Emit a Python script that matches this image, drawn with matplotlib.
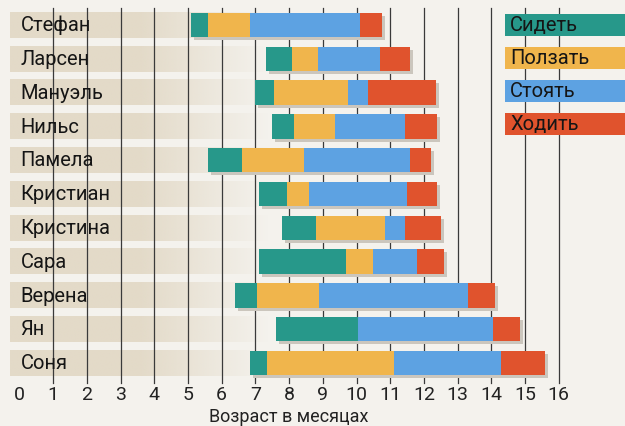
import numpy as np
import matplotlib.pyplot as plt
from matplotlib.patches import Rectangle

# milestones (age in months) for each child
names = ['Стефан', 'Ларсен', 'Мануэль', 'Нильс', 'Памела', 'Кристиан',
         'Кристина', 'Сара', 'Верена', 'Ян', 'Соня']
sit   = [5.1, 7.3, 7.0, 7.5, 5.6, 7.1, 7.8, 7.1, 6.4, 7.6, 6.85]
crawl = [5.6, 8.1, 7.55, 8.15, 6.6, 7.95, 8.8, 9.7, 7.05, 10.05, 7.35]
stand = [6.85, 8.85, 9.75, 9.35, 8.45, 8.6, 10.85, 10.5, 8.9, 10.05, 11.1]
walk  = [10.1, 10.7, 10.35, 11.45, 11.6, 11.5, 11.45, 11.8, 13.3, 14.05, 14.3]
end   = [10.75, 11.6, 12.35, 12.4, 12.2, 12.4, 12.5, 12.6, 14.1, 14.85, 15.6]

phases = ['Сидеть', 'Ползать', 'Стоять', 'Ходить']
colors = ['#27988a', '#f0b54c', '#5da2e2', '#e0532d']
xticks = list(range(17))

plt.rcParams['font.family'] = ['Roboto', 'DejaVu Sans']

bg = '#f4f2ed'
fig = plt.figure(figsize=(6.25, 4.26), dpi=100, facecolor=bg)
ax = fig.add_axes([0, 0, 1, 1])
ax.set_facecolor(bg)

px = 33.7   # pixels per month
py = 33.8   # pixels per row
ax.set_xlim(-19.5 / px, (625 - 19.5) / px)
ax.set_ylim((426 - 25) / py, -25 / py)
ax.axis('off')

# beige name bands fading to the right
fade = np.ones((1, 200, 4))
fade[..., :3] = np.array([227, 218, 200]) / 255
xs = np.linspace(0, 1, 200)
fade[0, :, 3] = np.clip((1 - xs) / 0.5, 0, 1)
for i, n in enumerate(names):
    ax.imshow(fade, extent=[-0.28, 7.4, i + 0.38, i - 0.38], aspect='auto',
              zorder=0, interpolation='bilinear')
    ax.text(0.03, i + 0.02, n, fontsize=14.5, va='center', ha='left',
            color='#151515', zorder=4)

# grid lines
for t in xticks[1:]:
    ax.plot([t, t], [-0.5, 10.6], color='#3a3a3a', lw=0.9, zorder=1)
for t in xticks:
    ax.text(t, 10.95, str(t), fontsize=14, ha='center', va='center', color='#222222')
ax.text(8.0, 11.6, 'Возраст в месяцах', fontsize=13, ha='center', va='center',
        color='#222222')

# bars
h = 0.72
sx, sy = 3 / px, 3 / py
for i in range(len(names)):
    edges = [sit[i], crawl[i], stand[i], walk[i], end[i]]
    ax.add_patch(Rectangle((edges[0] + sx, i - h / 2 + sy), edges[-1] - edges[0], h,
                           color='#cbc6bd', zorder=2, lw=0))
    for k in range(4):
        w = edges[k + 1] - edges[k]
        if w > 0:
            ax.add_patch(Rectangle((edges[k], i - h / 2), w, h, color=colors[k],
                                   zorder=3, lw=0))

# legend boxes
lx = (505 - 19.5) / px
for k, (p, c) in enumerate(zip(phases, colors)):
    yc = k * 0.975
    ax.add_patch(Rectangle((lx, yc - 0.33), 4, 0.66, color=c, zorder=5, lw=0))
    ax.text(lx + 0.15, yc + 0.02, p, fontsize=14.5, va='center', ha='left',
            color='#151515', zorder=6)

fig.savefig('out.png', dpi=100, facecolor=bg)
